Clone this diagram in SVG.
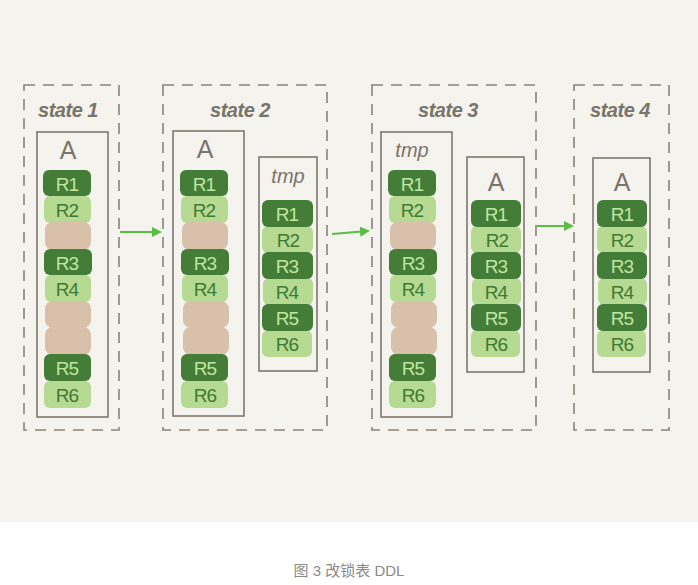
<svg xmlns="http://www.w3.org/2000/svg" width="698" height="585" viewBox="0 0 698 585">
<defs>
<style>
.bg{fill:#f4f3ee}
.dash{fill:none;stroke:#8a8478;stroke-width:1.6;stroke-dasharray:11 8}
.box{fill:none;stroke:#7f796e;stroke-width:1.6}
.dk{fill:#437d38}
.lt{fill:#b7da92}
.tan{fill:#d8c0ab}
.tdk{font-family:"Liberation Sans",Arial,sans-serif;font-size:19px;letter-spacing:-1px;fill:#c2e6a0;text-anchor:middle}
.tlt{font-family:"Liberation Sans",Arial,sans-serif;font-size:19px;letter-spacing:-1px;fill:#3e7a33;text-anchor:middle}
.st{font-family:"Liberation Sans",Arial,sans-serif;font-size:20px;font-style:italic;font-weight:bold;letter-spacing:-0.5px;fill:#7a746a;text-anchor:middle}
.lbl{font-family:"Liberation Sans",Arial,sans-serif;font-size:25px;fill:#7a746a;text-anchor:middle}
.tmp{font-family:"Liberation Sans",Arial,sans-serif;font-size:20px;font-style:italic;fill:#7a746a;text-anchor:middle}
.arr{stroke:#5bbd45;stroke-width:2;fill:none;marker-end:url(#ah)}
.cap{font-family:"Liberation Sans","Noto Sans CJK SC",sans-serif;font-size:15px;fill:#8a8a8a;text-anchor:middle}
</style>
<marker id="ah" markerWidth="10" markerHeight="10" refX="8" refY="5" orient="auto" markerUnits="userSpaceOnUse">
<path d="M0,0 L10,5 L0,10 Z" fill="#5bbd45"/>
</marker>
</defs>
<rect class="bg" x="0" y="0" width="698" height="522"/>

<g id="state1">
<rect class="dash" x="24" y="85" width="95" height="345"/>
<text class="st" x="68" y="117">state 1</text>
<rect class="box" x="37" y="132" width="71" height="285"/>
<text class="lbl" x="68" y="159">A</text>
<rect class="lt" x="44" y="196" width="47" height="27" rx="6"/>
<rect class="tan" x="45" y="222" width="46" height="28" rx="8"/>
<rect class="lt" x="45" y="275" width="46" height="27" rx="6"/>
<rect class="tan" x="45" y="301" width="46" height="27" rx="8"/>
<rect class="tan" x="45" y="327" width="46" height="28" rx="8"/>
<rect class="lt" x="44" y="381" width="47" height="27" rx="6"/>
<rect class="dk" x="43" y="170" width="48" height="26" rx="6"/>
<rect class="dk" x="44" y="249" width="48" height="26" rx="6"/>
<rect class="dk" x="44" y="354" width="47" height="27" rx="6"/>
<text class="tdk" x="67" y="191">R1</text>
<text class="tlt" x="67" y="217">R2</text>
<text class="tdk" x="67" y="270">R3</text>
<text class="tlt" x="67" y="296">R4</text>
<text class="tdk" x="67" y="375">R5</text>
<text class="tlt" x="67" y="402">R6</text>
</g>

<g id="state2">
<rect class="dash" x="163" y="85" width="164" height="345"/>
<text class="st" x="240" y="117">state 2</text>
<rect class="box" x="173" y="131" width="71" height="285"/>
<text class="lbl" x="205" y="158">A</text>
<rect class="lt" x="181" y="196" width="47" height="27" rx="6"/>
<rect class="tan" x="182" y="222" width="46" height="28" rx="8"/>
<rect class="lt" x="182" y="275" width="46" height="27" rx="6"/>
<rect class="tan" x="183" y="301" width="46" height="27" rx="8"/>
<rect class="tan" x="183" y="327" width="46" height="28" rx="8"/>
<rect class="lt" x="181" y="381" width="47" height="27" rx="6"/>
<rect class="dk" x="180" y="170" width="48" height="26" rx="6"/>
<rect class="dk" x="181" y="249" width="48" height="26" rx="6"/>
<rect class="dk" x="181" y="354" width="47" height="27" rx="6"/>
<text class="tdk" x="204" y="191">R1</text>
<text class="tlt" x="204" y="217">R2</text>
<text class="tdk" x="205" y="270">R3</text>
<text class="tlt" x="205" y="296">R4</text>
<text class="tdk" x="205" y="375">R5</text>
<text class="tlt" x="205" y="402">R6</text>
</g>

<g id="tmp2">
<rect class="box" x="259" y="157" width="58" height="214"/>
<text class="tmp" x="288" y="183">tmp</text>
<rect class="lt" x="262" y="226" width="51" height="27" rx="6"/>
<rect class="lt" x="263" y="278" width="50" height="27" rx="6"/>
<rect class="lt" x="262" y="330" width="50" height="27" rx="6"/>
<rect class="dk" x="262" y="200" width="51" height="27" rx="6"/>
<rect class="dk" x="262" y="252" width="51" height="27" rx="6"/>
<rect class="dk" x="262" y="304" width="51" height="27" rx="6"/>
<text class="tdk" x="287" y="221">R1</text>
<text class="tlt" x="288" y="247">R2</text>
<text class="tdk" x="287" y="273">R3</text>
<text class="tlt" x="287" y="299">R4</text>
<text class="tdk" x="287" y="325">R5</text>
<text class="tlt" x="287" y="351">R6</text>
</g>

<g id="state3">
<rect class="dash" x="372" y="85" width="164" height="345"/>
<text class="st" x="448" y="117">state 3</text>
<rect class="box" x="381" y="132" width="71" height="285"/>
<text class="tmp" x="412" y="157">tmp</text>
<rect class="lt" x="389" y="196" width="47" height="27" rx="6"/>
<rect class="tan" x="390" y="222" width="46" height="28" rx="8"/>
<rect class="lt" x="390" y="275" width="46" height="27" rx="6"/>
<rect class="tan" x="391" y="301" width="46" height="27" rx="8"/>
<rect class="tan" x="391" y="327" width="46" height="28" rx="8"/>
<rect class="lt" x="389" y="381" width="47" height="27" rx="6"/>
<rect class="dk" x="388" y="170" width="48" height="26" rx="6"/>
<rect class="dk" x="389" y="249" width="48" height="26" rx="6"/>
<rect class="dk" x="389" y="354" width="47" height="27" rx="6"/>
<text class="tdk" x="412" y="191">R1</text>
<text class="tlt" x="412" y="217">R2</text>
<text class="tdk" x="413" y="270">R3</text>
<text class="tlt" x="413" y="296">R4</text>
<text class="tdk" x="413" y="375">R5</text>
<text class="tlt" x="413" y="402">R6</text>
</g>

<g id="A3">
<rect class="box" x="467" y="157" width="57" height="215"/>
<text class="lbl" x="496" y="191">A</text>
<rect class="lt" x="471" y="226" width="50" height="27" rx="6"/>
<rect class="lt" x="472" y="278" width="49" height="27" rx="6"/>
<rect class="lt" x="471" y="330" width="49" height="27" rx="6"/>
<rect class="dk" x="471" y="200" width="50" height="27" rx="6"/>
<rect class="dk" x="471" y="252" width="50" height="27" rx="6"/>
<rect class="dk" x="471" y="304" width="50" height="27" rx="6"/>
<text class="tdk" x="496" y="221">R1</text>
<text class="tlt" x="497" y="247">R2</text>
<text class="tdk" x="496" y="273">R3</text>
<text class="tlt" x="496" y="299">R4</text>
<text class="tdk" x="496" y="325">R5</text>
<text class="tlt" x="496" y="351">R6</text>
</g>

<g id="state4">
<rect class="dash" x="574" y="85" width="95" height="345"/>
<text class="st" x="620" y="117">state 4</text>
<rect class="box" x="593" y="158" width="57" height="214"/>
<text class="lbl" x="622" y="191">A</text>
<rect class="lt" x="597" y="226" width="50" height="27" rx="6"/>
<rect class="lt" x="598" y="278" width="49" height="27" rx="6"/>
<rect class="lt" x="597" y="330" width="49" height="27" rx="6"/>
<rect class="dk" x="597" y="200" width="50" height="27" rx="6"/>
<rect class="dk" x="597" y="252" width="50" height="27" rx="6"/>
<rect class="dk" x="597" y="304" width="50" height="27" rx="6"/>
<text class="tdk" x="622" y="221">R1</text>
<text class="tlt" x="622" y="247">R2</text>
<text class="tdk" x="622" y="273">R3</text>
<text class="tlt" x="622" y="299">R4</text>
<text class="tdk" x="622" y="325">R5</text>
<text class="tlt" x="622" y="351">R6</text>
</g>

<g id="connectors">
<line class="arr" x1="120" y1="232" x2="160" y2="232"/>
<line class="arr" x1="332" y1="234" x2="368" y2="231"/>
<line class="arr" x1="537" y1="226" x2="572" y2="226"/>
</g>

<text class="cap" x="349" y="576">图 3 改锁表 DDL</text>
</svg>
